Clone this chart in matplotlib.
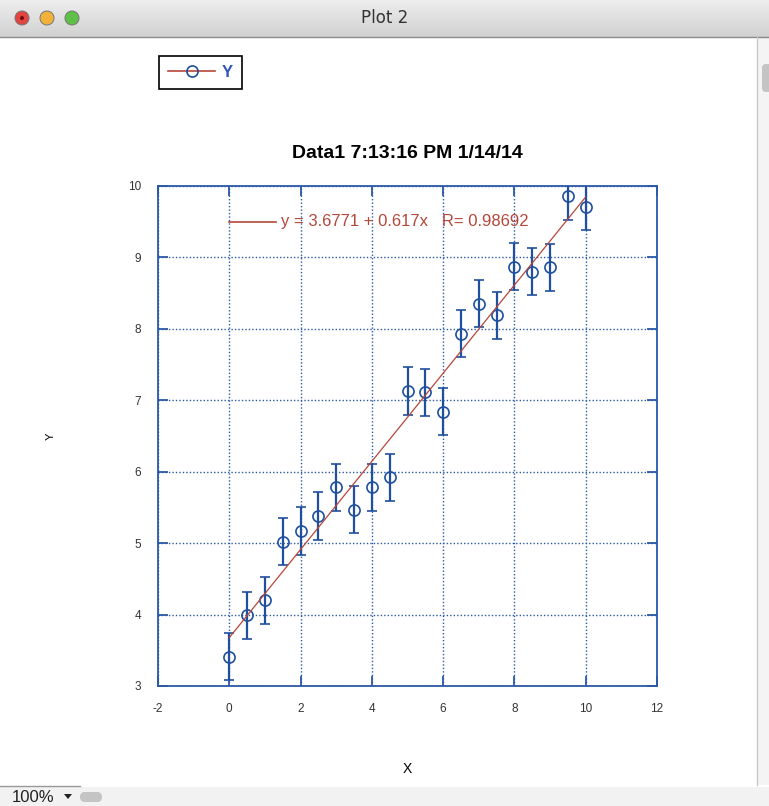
import numpy as np
import matplotlib
matplotlib.use("Agg")
import matplotlib.pyplot as plt
from matplotlib.lines import Line2D
from matplotlib.patches import Circle, Rectangle, FancyBboxPatch, Polygon

plt.rcParams['font.family'] = ['Liberation Sans', 'DejaVu Sans']
plt.rcParams['axes.unicode_minus'] = False

# data
x = [0, 0.5, 1, 1.5, 2, 2.5, 3, 3.5, 4, 4.5, 5, 5.5, 6, 6.5, 7, 7.5, 8, 8.5, 9, 9.5, 10]
y = [3.41, 3.99, 4.20, 5.02, 5.17, 5.38, 5.78, 5.47, 5.78, 5.92, 7.13, 7.11, 6.84,
     7.93, 8.35, 8.19, 8.87, 8.80, 8.86, 9.86, 9.71]
yerr = [0.33, 0.33, 0.33, 0.33, 0.33, 0.33, 0.33, 0.33, 0.33, 0.33, 0.33, 0.33, 0.33,
        0.33, 0.33, 0.33, 0.33, 0.33, 0.33, 0.33, 0.33]
intercept = 3.6771
slope = 0.617
r_value = 0.98692
title = "Data1 7:13:16 PM 1/14/14"
xticks = [-2, 0, 2, 4, 6, 8, 10, 12]
yticks = [3, 4, 5, 6, 7, 8, 9, 10]

blue = '#1f4f9f'
spine_blue = '#2a59a8'
red = '#b5473a'
W, H = 769, 806

fig = plt.figure(figsize=(W / 100, H / 100), dpi=100)

# window chrome, drawn in pixel coordinates
bg = fig.add_axes([0, 0, 1, 1], zorder=-5)
bg.set_xlim(0, W)
bg.set_ylim(H, 0)
bg.axis('off')
grad = np.linspace(0.93, 0.82, 50).reshape(-1, 1)
bg.imshow(grad, cmap='gray', vmin=0, vmax=1, extent=(0, W, 37, 0), aspect='auto')
bg.plot([0, W], [37, 37], color='#8a8a8a', lw=1)
for cx, c in zip([22, 47, 72], ['#e2443f', '#f2b23a', '#5fc048']):
    bg.add_patch(Circle((cx, 18), 7, fc=c, ec='#777777', lw=0.7))
bg.add_patch(Circle((22, 18), 2, fc='#6e1010', ec='none'))
bg.text(W / 2, 18, "Plot 2", ha='center', va='center', fontsize=12, color='#333333',
        family=['Lucida Grande', 'DejaVu Sans'])
bg.plot([757, 757], [37, 785], color='#c8c8c8', lw=1)
bg.add_patch(Rectangle((757, 37), 12, 748, fc='#f4f4f4', ec='none'))
bg.add_patch(FancyBboxPatch((762, 64), 10, 28, boxstyle='round,pad=0,rounding_size=4',
                            fc='#c4c4c4', ec='none'))
bg.plot([0, 80], [786, 786], color='#999999', lw=1)
bg.add_patch(Rectangle((0, 787), W, 19, fc='#f2f2f2', ec='none'))
bg.text(12, 797, "100%", ha='left', va='center', fontsize=12, color='#222222')
bg.add_patch(Polygon([[64, 794], [72, 794], [68, 799]], closed=True, fc='#222222', ec='none'))
bg.add_patch(FancyBboxPatch((80, 792), 22, 10, boxstyle='round,pad=0,rounding_size=5',
                            fc='#c4c4c4', ec='none'))

# main plot
ax = fig.add_axes([158 / W, 1 - 686 / H, 499 / W, 500 / H])
ax.errorbar(x, y, yerr=yerr, fmt='o', mfc='none', mec=blue, ms=8, mew=1.2,
            ecolor=blue, elinewidth=1.6, capsize=3.5, capthick=1.6, zorder=3)
xf = np.array([x[0], x[-1]])
ax.plot(xf, intercept + slope * xf, color=red, lw=0.9, zorder=4)

ax.set_xlim(-2, 12)
ax.set_ylim(3, 10)
ax.set_xticks(xticks)
ax.set_yticks(yticks)
ax.grid(True, color=spine_blue, linestyle=(0, (1, 1.5)), lw=1)
for s in ax.spines.values():
    s.set_color(spine_blue)
    s.set_linewidth(1.3)
ax.tick_params(direction='in', length=7, width=1.3, color=spine_blue,
               top=True, right=True, labelsize=8.5, labelcolor='#333333', pad=12)

ax.set_title(title, fontsize=14, fontweight='bold', pad=20)
ax.set_xlabel('X', fontsize=10)
ax.xaxis.set_label_coords(0.5, -0.152)
ax.set_ylabel('Y', fontsize=8)
ax.yaxis.set_label_coords(-0.206, 0.5)

# fit annotation
ax.plot([0, 1.32], [9.5, 9.5], color=red, lw=1.2)
ax.text(1.45, 9.5, f"y = {intercept} + {slope}x   R= {r_value}", color=red,
        fontsize=12, va='center', ha='left')

# legend
handle = Line2D([], [], color=red, lw=1.2, marker='o', mfc='none', mec=blue, ms=8, mew=1.2)
leg = ax.legend([handle], ['Y'], loc='upper left', bbox_to_anchor=(159 / W, 1 - 56 / H),
                bbox_transform=fig.transFigure, borderaxespad=0, fancybox=False,
                edgecolor='black', framealpha=1, handlelength=2.8, handletextpad=0.4,
                prop={'weight': 'bold', 'size': 12}, borderpad=0.55)
leg.get_frame().set_linewidth(1.2)
for t in leg.get_texts():
    t.set_color('#3355bb')

fig.savefig('out.png', dpi=100)
